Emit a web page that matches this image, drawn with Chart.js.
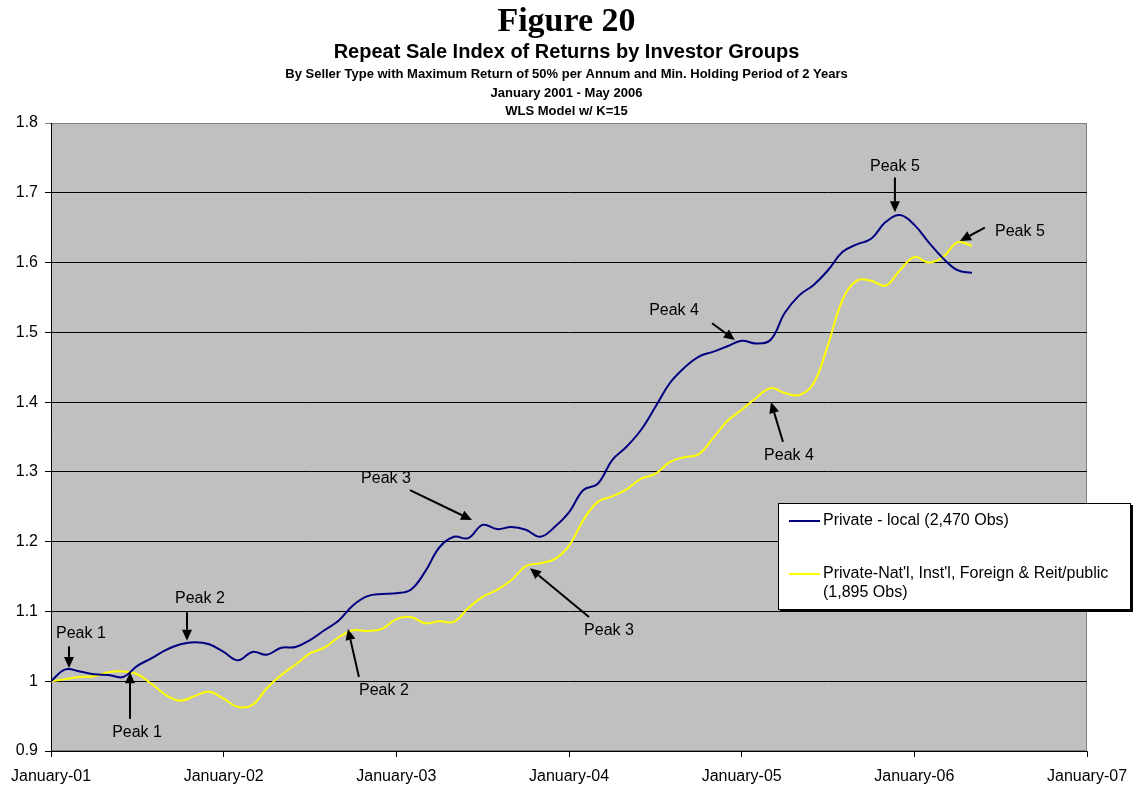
<!DOCTYPE html>
<html>
<head>
<meta charset="utf-8">
<title>Figure 20</title>
<script src="https://cdn.jsdelivr.net/npm/chart.js@4.4.0/dist/chart.umd.min.js"></script>
<style>
  html, body { margin: 0; padding: 0; background: #fff; }
  #wrap { width: 1133px; height: 786px; }
</style>
</head>
<body>
<div id="wrap"><canvas id="chart"></canvas></div>
<script>
// Monthly index values, January 2001 - May 2006 (65 months)
const privateLocal = [1.000, 1.017, 1.014, 1.010, 1.009, 1.006, 1.022, 1.033, 1.045, 1.053,
  1.056, 1.053, 1.042, 1.030, 1.042, 1.038, 1.048, 1.049, 1.059, 1.073,
  1.087, 1.109, 1.122, 1.125, 1.126, 1.131, 1.157, 1.192, 1.207, 1.205,
  1.224, 1.218, 1.221, 1.217, 1.207, 1.221, 1.242, 1.274, 1.283, 1.317,
  1.336, 1.360, 1.393, 1.427, 1.449, 1.465, 1.472, 1.480, 1.488, 1.484,
  1.489, 1.528, 1.553, 1.568, 1.589, 1.615, 1.626, 1.634, 1.658, 1.668,
  1.654, 1.629, 1.606, 1.589, 1.585];
const privateNational = [1.000, 1.003, 1.006, 1.007, 1.013, 1.014, 1.010, 0.996, 0.980, 0.972,
  0.979, 0.985, 0.975, 0.963, 0.966, 0.990, 1.009, 1.024, 1.040, 1.048,
  1.063, 1.073, 1.072, 1.075, 1.089, 1.092, 1.083, 1.086, 1.085, 1.105,
  1.121, 1.131, 1.145, 1.165, 1.169, 1.175, 1.194, 1.231, 1.257, 1.265,
  1.275, 1.290, 1.297, 1.314, 1.321, 1.325, 1.348, 1.373, 1.389, 1.406,
  1.420, 1.413, 1.410, 1.427, 1.482, 1.546, 1.574, 1.574, 1.567, 1.589,
  1.608, 1.600, 1.608, 1.629, 1.624];
const seriesNames = ['Private - local (2,470 Obs)', "Private-Nat'l, Inst'l, Foreign & Reit/public (1,895 Obs)"];
const legendLines = [['Private - local (2,470 Obs)'], ["Private-Nat'l, Inst'l, Foreign & Reit/public", '(1,895 Obs)']];
const xTickLabels = ['January-01', 'January-02', 'January-03', 'January-04', 'January-05', 'January-06', 'January-07'];
const headings = ['Figure 20', 'Repeat Sale Index of Returns by Investor Groups',
  'By Seller Type with Maximum Return of 50% per Annum and Min. Holding Period of 2 Years',
  'January 2001 - May 2006', 'WLS Model w/ K=15'];

// peak notes in data units: label at [month, value], arrow from -> to
const peakNotes = [
  { text: 'Peak 1', at: [2.08, 1.068], from: [1.25, 1.050], to: [1.25, 1.019] },
  { text: 'Peak 2', at: [10.35, 1.119], from: [9.45, 1.099], to: [9.45, 1.058] },
  { text: 'Peak 1', at: [5.98, 0.926], from: [5.49, 0.946], to: [5.49, 1.013] },
  { text: 'Peak 2', at: [23.14, 0.987], from: [21.4, 1.006], to: [20.64, 1.075] },
  { text: 'Peak 3', at: [23.28, 1.291], from: [24.95, 1.274], to: [29.26, 1.231] },
  { text: 'Peak 3', at: [38.78, 1.073], from: [37.39, 1.092], to: [33.29, 1.162] },
  { text: 'Peak 4', at: [43.3, 1.531], from: [45.94, 1.513], to: [47.53, 1.489] },
  { text: 'Peak 4', at: [51.29, 1.324], from: [50.87, 1.343], to: [50.04, 1.400] },
  { text: 'Peak 5', at: [58.65, 1.738], from: [58.65, 1.722], to: [58.65, 1.672] },
  { text: 'Peak 5', at: [67.34, 1.645], from: [64.9, 1.650], to: [63.17, 1.631] }
];

const FONT = '"Liberation Sans", Arial, sans-serif';
const toPoints = arr => arr.map((v, i) => ({ x: i, y: v }));

// grey plot background with its thin border
const plotBackground = {
  id: 'plotBackground',
  beforeDraw(chart) {
    const { ctx, chartArea: a } = chart;
    ctx.save();
    ctx.fillStyle = '#C0C0C0';
    ctx.fillRect(a.left, a.top, a.right - a.left, a.bottom - a.top);
    ctx.strokeStyle = '#808080';
    ctx.lineWidth = 1;
    ctx.strokeRect(a.left + 0.5, a.top + 0.5, a.right - a.left - 1, a.bottom - a.top - 1);
    ctx.restore();
  }
};

const headingText = {
  id: 'headingText',
  afterDraw(chart) {
    const ctx = chart.ctx;
    const cx = chart.width / 2;
    ctx.save();
    ctx.fillStyle = '#000';
    ctx.textAlign = 'center';
    ctx.textBaseline = 'middle';
    ctx.font = 'bold 34px "Liberation Serif", "Times New Roman", serif';
    ctx.fillText(headings[0], cx, 22);
    ctx.font = 'bold 20px ' + FONT;
    ctx.fillText(headings[1], cx, 52);
    ctx.font = 'bold 13px ' + FONT;
    ctx.fillText(headings[2], cx, 74);
    ctx.fillText(headings[3], cx, 93);
    ctx.fillText(headings[4], cx, 111);
    ctx.restore();
  }
};

const peakArrows = {
  id: 'peakArrows',
  afterDatasetsDraw(chart) {
    const { ctx, scales: { x, y } } = chart;
    ctx.save();
    ctx.fillStyle = '#000';
    ctx.strokeStyle = '#000';
    ctx.lineWidth = 2;
    ctx.font = '16px ' + FONT;
    ctx.textAlign = 'center';
    ctx.textBaseline = 'middle';
    peakNotes.forEach(n => {
      ctx.fillText(n.text, x.getPixelForValue(n.at[0]), y.getPixelForValue(n.at[1]));
      const x1 = x.getPixelForValue(n.from[0]), y1 = y.getPixelForValue(n.from[1]);
      const x2 = x.getPixelForValue(n.to[0]), y2 = y.getPixelForValue(n.to[1]);
      const ang = Math.atan2(y2 - y1, x2 - x1);
      const head = 11, half = 5;
      const bx = x2 - head * Math.cos(ang), by = y2 - head * Math.sin(ang);
      ctx.beginPath();
      ctx.moveTo(x1, y1);
      ctx.lineTo(bx, by);
      ctx.stroke();
      ctx.beginPath();
      ctx.moveTo(x2, y2);
      ctx.lineTo(bx + half * Math.sin(ang), by - half * Math.cos(ang));
      ctx.lineTo(bx - half * Math.sin(ang), by + half * Math.cos(ang));
      ctx.closePath();
      ctx.fill();
    });
    ctx.restore();
  }
};

// boxed legend sitting over the right part of the plot
const boxLegend = {
  id: 'boxLegend',
  afterDraw(chart) {
    const { ctx, chartArea: a } = chart;
    const left = a.right - 309, top = a.top + 380, w = 353, h = 107;
    ctx.save();
    ctx.fillStyle = '#000';
    ctx.fillRect(left + 2, top + 2, w, h);
    ctx.fillStyle = '#fff';
    ctx.fillRect(left, top, w, h);
    ctx.strokeStyle = '#000';
    ctx.lineWidth = 1;
    ctx.strokeRect(left + 0.5, top + 0.5, w - 1, h - 1);
    ctx.font = '16px ' + FONT;
    ctx.textAlign = 'left';
    ctx.textBaseline = 'middle';
    const rows = [18, 71];
    chart.data.datasets.forEach((ds, i) => {
      const ry = top + rows[i];
      ctx.strokeStyle = ds.borderColor;
      ctx.lineWidth = 2;
      ctx.beginPath();
      ctx.moveTo(left + 11, ry);
      ctx.lineTo(left + 42, ry);
      ctx.stroke();
      ctx.fillStyle = '#000';
      legendLines[i].forEach((line, j) => ctx.fillText(line, left + 45, ry + j * 19));
    });
    ctx.restore();
  }
};

new Chart(document.getElementById('chart'), {
  type: 'line',
  data: {
    datasets: [
      {
        label: seriesNames[0],
        data: toPoints(privateLocal),
        borderColor: '#000080',
        borderWidth: 2,
        pointRadius: 0,
        tension: 0.4,
        fill: false
      },
      {
        label: seriesNames[1],
        data: toPoints(privateNational),
        borderColor: '#FFFF00',
        borderWidth: 2,
        pointRadius: 0,
        tension: 0.4,
        fill: false
      }
    ]
  },
  options: {
    responsive: true,
    maintainAspectRatio: false,
    animation: false,
    events: [],
    layout: { padding: { top: 123, right: 46, left: 0, bottom: 0 } },
    plugins: {
      legend: { display: false },
      title: { display: false },
      tooltip: { enabled: false }
    },
    scales: {
      x: {
        type: 'linear',
        min: 0,
        max: 72,
        afterFit: s => { s.height = 35; s.paddingLeft = 0; s.paddingRight = 0; },
        ticks: {
          stepSize: 12,
          autoSkip: false,
          maxRotation: 0,
          padding: 10,
          color: '#000',
          font: { family: FONT, size: 16 },
          callback: v => xTickLabels[v / 12]
        },
        grid: { drawOnChartArea: false, drawTicks: true, tickLength: 6, color: '#000' },
        border: { color: '#000', width: 1 }
      },
      y: {
        min: 0.9,
        max: 1.8,
        afterFit: s => { s.width = 51; s.paddingTop = 0; s.paddingBottom = 0; },
        ticks: {
          stepSize: 0.1,
          padding: 7,
          color: '#000',
          font: { family: FONT, size: 16 },
          callback: v => String(Math.round(v * 10) / 10)
        },
        grid: {
          color: ctx => (ctx.tick && Math.abs(ctx.tick.value - 1.8) < 1e-6 ? '#808080' : '#000'),
          tickLength: 6,
          lineWidth: 1
        },
        border: { color: '#000', width: 1 }
      }
    }
  },
  plugins: [plotBackground, peakArrows, boxLegend, headingText]
});
</script>
</body>
</html>
